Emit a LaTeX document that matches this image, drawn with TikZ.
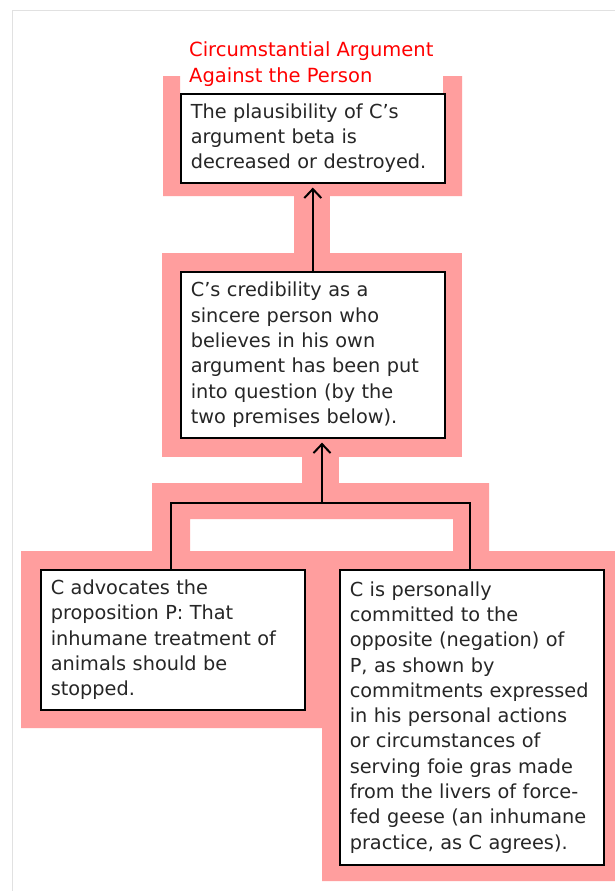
\documentclass[tikz,border=0pt]{standalone}
\usepackage{fontspec}
\setmainfont{DejaVu Sans}
\usetikzlibrary{arrows.meta}
\definecolor{pinkbg}{RGB}{255,158,158}
\definecolor{frameg}{RGB}{225,225,225}
\definecolor{titlered}{RGB}{255,0,0}
\begin{document}
\begin{tikzpicture}[x=1pt,y=-1pt,
  box/.style={draw=black, line width=1.6pt, fill=white, rectangle, anchor=north west,
    inner xsep=10pt, inner ysep=0pt, align=left, text width=244pt,
    font=\fontsize{19.3}{25.3}\selectfont, text=black!85},
  titletext/.style={anchor=north west, inner sep=0pt, align=left, text=titlered,
    font=\fontsize{19.5}{26}\selectfont},
  band/.style={fill=pinkbg, draw=none},
  link/.style={line width=1.5pt, draw=black},
  up/.style={link, -{Straight Barb[length=9pt,width=17pt,line width=2pt]}, shorten >=4pt}]

\useasboundingbox (0,0) rectangle (615,891);
\fill[white] (0,0) rectangle (615,891);
\draw[frameg, line width=1pt] (12.5,891) -- (12.5,10.5) -- (615,10.5);

% pink backgrounds
\fill[band] (163,76) -- (180,76) -- (180,93) -- (443,93) -- (443,76) -- (462,76)
  -- (462,196) -- (163,196) -- cycle;
\fill[band] (294,196) rectangle (330,254);
\fill[band] (162,253) rectangle (462,457);
\fill[band] (302,456) rectangle (339,484);
\fill[band] (152,483) -- (489,483) -- (489,552) -- (453,552) -- (453,519) -- (190,519)
  -- (190,552) -- (152,552) -- cycle;
\fill[band] (21,551) -- (615,551) -- (615,881) -- (322,881) -- (322,728) -- (21,728) -- cycle;

% title
\node[titletext] (ttl) at (189,41.5) {Circumstantial Argument\\Against the Person};

% boxes
\node[box, minimum width=264pt, minimum height=89pt] (b1) at (180,93)
  {The plausibility of C's\\argument beta is\\decreased or destroyed.};
\node[box, minimum width=263pt, minimum height=166pt] (b2) at (180,271)
  {C's credibility as a\\sincere person who\\believes in his own\\argument has been put\\into question (by the\\two premises below).};
\node[box, minimum width=263pt, minimum height=140pt] (b3) at (40,569)
  {C advocates the\\proposition P: That\\inhumane treatment of\\animals should be\\stopped.};
\node[box, minimum width=264pt, minimum height=295pt] (b4) at (339,569)
  {C is personally\\committed to the\\opposite (negation) of\\P, as shown by\\commitments expressed\\in his personal actions\\or circumstances of\\serving foie gras made\\from the livers of force-\\fed geese (an inhumane\\practice, as C agrees).};

% connectors
\coordinate (jl) at (171,503);
\coordinate (jm) at (322,503);
\coordinate (jr) at (470,503);
\draw[up] (b2.north -| b1.south) -- (b1.south);
\draw[up] (jm) -- (b2.south -| jm);
\draw[link] (b3.north -| jl) -- (jl) -- (jr) -- (b4.north -| jr);
\end{tikzpicture}
\end{document}
